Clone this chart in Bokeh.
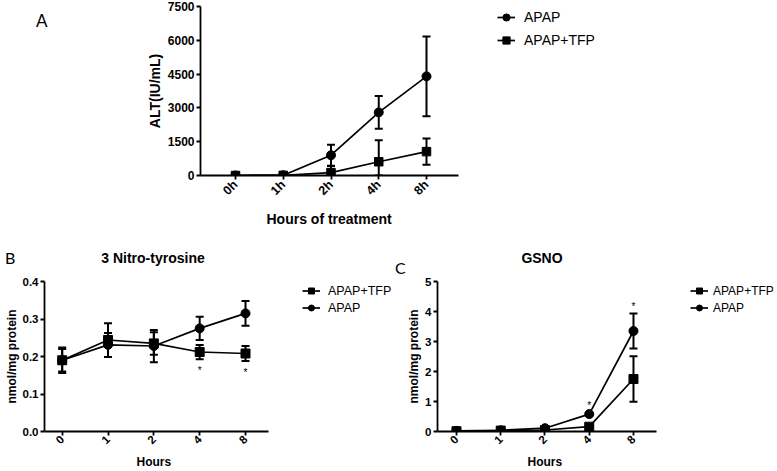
import math
from bokeh.plotting import figure
from bokeh.models import (ColumnDataSource, Whisker, TeeHead, FixedTicker, Range1d,
                          Legend, LegendItem, PrintfTickFormatter, Title, Div)
from bokeh.layouts import column, row
from bokeh.embed import file_html
from bokeh.resources import INLINE
from bokeh.core.properties import value

# ---------------- data ----------------
# Panel A: ALT
alt_labels = ["0h", "1h", "2h", "4h", "8h"]
alt_apap = [0, 10, 900, 2800, 4400]
alt_apap_err = [0, 10, 470, 730, 1770]
alt_tfp = [0, 5, 130, 610, 1060]
alt_tfp_err = [0, 5, 290, 950, 580]
alt_yticks = [0, 1500, 3000, 4500, 6000, 7500]

# Panel B: 3 Nitro-tyrosine
hours_labels = ["0", "1", "2", "4", "8"]
nt_apap = [0.19, 0.231, 0.228, 0.275, 0.315]
nt_apap_err = [0.034, 0.032, 0.043, 0.031, 0.033]
nt_tfp = [0.19, 0.244, 0.235, 0.212, 0.208]
nt_tfp_err = [0.03, 0.045, 0.03, 0.019, 0.02]
nt_sig = ["", "", "", "*", "*"]
nt_yticks = [0.0, 0.1, 0.2, 0.3, 0.4]

# Panel C: GSNO
gsno_apap = [0.02, 0.04, 0.11, 0.58, 3.35]
gsno_apap_err = [0.01, 0.01, 0.03, 0.04, 0.58]
gsno_tfp = [0.01, 0.03, 0.05, 0.16, 1.75]
gsno_tfp_err = [0.01, 0.01, 0.02, 0.03, 0.76]
gsno_sig = ["", "", "", "*", "*"]
gsno_yticks = [0, 1, 2, 3, 4, 5]

FONT = "Liberation Sans"


def make_fig(width, height, xr, axis_bounds, yr, bl, br, bt, bb, labels, yticks,
             tick_fs, xtick_fs, ylabel, axis_fs):
    p = figure(width=width, height=height, x_range=Range1d(*xr), y_range=Range1d(*yr),
               output_backend="svg", toolbar_location=None,
               min_border_left=bl, min_border_right=br, min_border_top=bt,
               min_border_bottom=bb)
    p.outline_line_color = None
    p.grid.visible = False
    for ax in (p.xaxis[0], p.yaxis[0]):
        ax.axis_line_width = 1.8
        ax.axis_line_color = "black"
        ax.major_tick_line_width = 1.8
        ax.major_tick_out = 4
        ax.major_tick_in = 0
        ax.minor_tick_line_color = None
        ax.major_label_text_font = FONT
        ax.major_label_text_font_style = "bold"
        ax.major_label_text_font_size = tick_fs
        ax.major_label_text_color = "black"
        ax.axis_label_text_font = FONT
        ax.axis_label_text_font_style = "bold"
        ax.axis_label_text_font_size = axis_fs
        ax.axis_label_text_color = "black"
        ax.major_label_standoff = 2
    p.xaxis.major_label_text_font_size = xtick_fs
    p.xaxis.bounds = axis_bounds
    p.xaxis.ticker = FixedTicker(ticks=list(range(len(labels))))
    p.xaxis.major_label_overrides = {i: lab for i, lab in enumerate(labels)}
    p.xaxis.major_label_orientation = math.pi / 4
    p.yaxis.ticker = FixedTicker(ticks=yticks)
    p.yaxis.axis_label = ylabel
    return p


def add_xlabel(p, text, size, offset, standoff):
    p.add_layout(Title(text=text, align="left", offset=offset, standoff=standoff,
                       text_font=FONT, text_font_size=size, text_font_style="bold",
                       text_color="black"), "below")


def add_series(p, y, err, marker, size):
    x = list(range(len(y)))
    src = ColumnDataSource(dict(
        x=x, y=y,
        upper=[a + b for a, b in zip(y, err)],
        lower=[max(a - b, 0) for a, b in zip(y, err)]))
    w = Whisker(source=src, base="x", upper="upper", lower="lower",
                line_width=2, line_color="black",
                upper_head=TeeHead(size=8, line_width=2, line_color="black"),
                lower_head=TeeHead(size=8, line_width=2, line_color="black"))
    p.add_layout(w)
    rl = p.line("x", "y", source=src, line_color="black", line_width=1.7)
    rm = p.scatter("x", "y", source=src, marker=marker, size=size,
                   fill_color="black", line_color="black")
    return [rl, rm]


def add_legend(p, items, loc, fs, gh, spacing, standoff):
    p.add_layout(Legend(items=[LegendItem(label=lab, renderers=rs) for lab, rs in items],
                        location=loc, border_line_color=None, background_fill_alpha=0,
                        padding=0, margin=0, spacing=spacing, glyph_width=18,
                        glyph_height=gh, label_height=gh, label_standoff=standoff,
                        label_text_font=FONT, label_text_font_size=fs,
                        label_text_color="black"))


def sig_marks(p, ycol, yvals, sig, yoff):
    p.text("x", ycol, text="sig", source=ColumnDataSource({
        "x": list(range(len(sig))), ycol: yvals, "sig": sig}),
        text_align="center", text_baseline="alphabetic", y_offset=yoff,
        text_font=value(FONT), text_font_size="10px", text_color="black")


def span(text, left, top, font, width=None, center=False):
    style = f"position:absolute;top:{top}px;white-space:nowrap;font:{font};line-height:1;color:black;"
    if center:
        style += f"left:{left}px;width:{width}px;text-align:center;"
    else:
        style += f"left:{left}px;"
    return f'<span style="{style}">{text}</span>'


TITLE = "bold 14px 'Liberation Sans'"

# ---------------- top row: panel A ----------------
div_a = Div(width=140, height=230, margin=0,
            text='<div style="position:relative;width:140px;height:230px;margin:0;padding:0">'
                 + span("A", 36, 12, "17px Lato") + '</div>')

# frame 200..772, 47.75 px per category step
pa = make_fig(637, 230, (-0.733, -0.733 + 572 / 47.75), (-0.733, 4.67), (0, 7500),
              60, 5, 6, 55, alt_labels, alt_yticks, "12px", "12.5px", "ALT(IU/mL)", "14px")
pa.yaxis.axis_label_standoff = 2
pa.xaxis.major_label_standoff = 3
add_xlabel(pa, "Hours of treatment", "14px", 66, 6)
ra1 = add_series(pa, alt_apap, alt_apap_err, "circle", 9)
ra2 = add_series(pa, alt_tfp, alt_tfp_err, "square", 8.5)
add_legend(pa, [("APAP", ra1), ("APAP+TFP", ra2)], (297, 125), "14px", 20, 3, 9)

# ---------------- header: panel letters and titles ----------------
hdr = Div(width=777, height=45, margin=0,
          text='<div style="position:relative;width:777px;height:45px;margin:0;padding:0">'
               + span("B", 5, 20, "16px Lato")
               + span("3 Nitro-tyrosine", 0, 21, TITLE, 306, True)
               + span("GSNO", 442, 21, TITLE, 200, True)
               + span("C", 395, 30, "16px Lato")
               + '</div>')

# ---------------- bottom row: panels B and C ----------------
# B frame 44..393, 45.83 px per step, first tick at x=61.7
pb = make_fig(393, 196, (-0.386, -0.386 + 349 / 45.83), (-0.386, 4.5), (0, 0.4),
              44, 0, 6, 38, hours_labels, nt_yticks, "11.5px", "11.5px",
              "nmol/mg protein", "12px")
pb.yaxis.formatter = PrintfTickFormatter(format="%.1f")
pb.yaxis.axis_label_standoff = 1
add_xlabel(pb, "Hours", "12px", 92, 5)
rb_tfp = add_series(pb, nt_tfp, nt_tfp_err, "square", 9)
rb_apap = add_series(pb, nt_apap, nt_apap_err, "circle", 9)
sig_marks(pb, "lower", [a - b for a, b in zip(nt_tfp, nt_tfp_err)], nt_sig, 11)
add_legend(pb, [("APAP+TFP", rb_tfp), ("APAP", rb_apap)], (258, 116), "12.5px", 15, 2, 8)

# C frame 437..777, 44.25 px per step, first tick at x=456
pc = make_fig(384, 196, (-0.429, -0.429 + 340 / 44.25), (-0.429, 4.52), (0, 5),
              44, 0, 6, 38, hours_labels, gsno_yticks, "11.5px", "11.5px",
              "nmol/mg protein", "12px")
pc.yaxis.axis_label_standoff = 1
add_xlabel(pc, "Hours", "12px", 90, 5)
rc_tfp = add_series(pc, gsno_tfp, gsno_tfp_err, "square", 9)
rc_apap = add_series(pc, gsno_apap, gsno_apap_err, "circle", 9)
sig_marks(pc, "upper", [a + b for a, b in zip(gsno_apap, gsno_apap_err)], gsno_sig, -7)
add_legend(pc, [("APAP+TFP", rc_tfp), ("APAP", rc_apap)], (253, 116), "12px", 15, 2, 5)

layout = column(row(div_a, pa), hdr, row(pb, pc))
open("out.html", "w").write(file_html(layout, INLINE))
